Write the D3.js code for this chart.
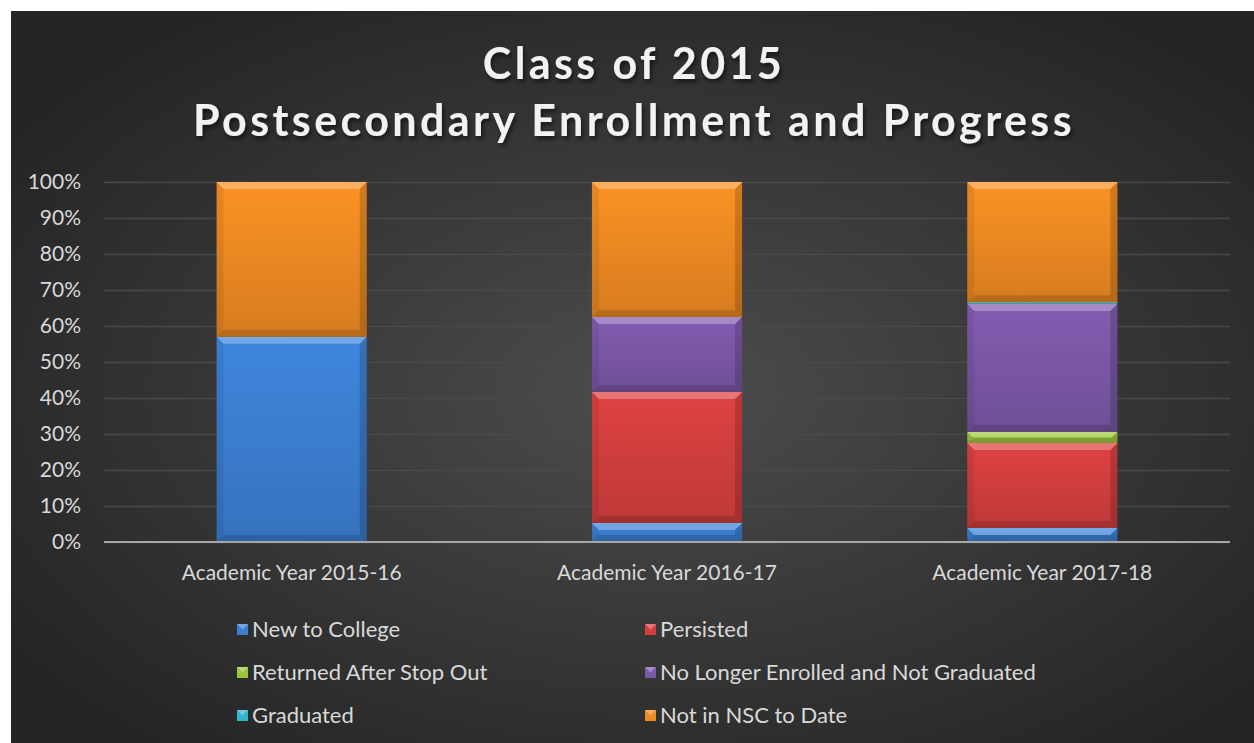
<!DOCTYPE html>
<html lang="en">
<head>
    <meta charset="UTF-8">
    <script src="https://cdn.jsdelivr.net/npm/d3@7"></script>
    <title>Class of 2015</title>
    <style>
        body { margin: 0; background: #fff; }
        svg { display: block; }
        .tick text { font-family: Lato, "Open Sans", sans-serif; fill: #d9d9d9; }
    </style>
</head>
<body>
<div id="chart"></div>
<script>
    // data (share of class)
    const categories = ["Academic Year 2015-16", "Academic Year 2016-17", "Academic Year 2017-18"];
    const seriesNames = ["New to College", "Persisted", "Returned After Stop Out",
        "No Longer Enrolled and Not Graduated", "Graduated", "Not in NSC to Date"];
    const newToCollege = [0.57, 0.053, 0.039];
    const persisted = [0, 0.364, 0.236];
    const returnedAfterStopOut = [0, 0, 0.031];
    const noLongerEnrolled = [0, 0.208, 0.355];
    const graduated = [0, 0, 0.005];
    const notInNSC = [0.43, 0.375, 0.334];
    const yTicks = [0, 0.1, 0.2, 0.3, 0.4, 0.5, 0.6, 0.7, 0.8, 0.9, 1];
    const seriesColors = ["#3c7fd2", "#d33f3f", "#9cc53e", "#7b58a8", "#2fb6cc", "#ee8a22"];

    const width = 1254, height = 743;
    const margin = { left: 104, right: 24, top: 182, bottom: 201 };

    const table = categories.map((c, i) => ({
        category: c,
        [seriesNames[0]]: newToCollege[i],
        [seriesNames[1]]: persisted[i],
        [seriesNames[2]]: returnedAfterStopOut[i],
        [seriesNames[3]]: noLongerEnrolled[i],
        [seriesNames[4]]: graduated[i],
        [seriesNames[5]]: notInNSC[i]
    }));

    const svg = d3.select("#chart").append("svg")
        .attr("width", width)
        .attr("height", height);

    const defs = svg.append("defs");
    const bg = defs.append("radialGradient").attr("id", "bg")
        .attr("cx", "52%").attr("cy", "52%").attr("r", "62%");
    bg.append("stop").attr("offset", "0%").attr("stop-color", "#4d4d4d");
    bg.append("stop").attr("offset", "100%").attr("stop-color", "#252525");

    const shadow = defs.append("filter").attr("id", "shadow")
        .attr("x", "-5%").attr("y", "-20%").attr("width", "110%").attr("height", "150%");
    shadow.append("feDropShadow").attr("dx", 2).attr("dy", 3).attr("stdDeviation", 2)
        .attr("flood-color", "#000").attr("flood-opacity", 0.55);

    const color = d3.scaleOrdinal().domain(seriesNames).range(seriesColors);
    seriesColors.forEach((c, i) => {
        const g = defs.append("linearGradient").attr("id", "grad" + i)
            .attr("x1", 0).attr("y1", 0).attr("x2", 0).attr("y2", 1);
        g.append("stop").attr("offset", "0%").attr("stop-color", d3.color(c).brighter(0.15));
        g.append("stop").attr("offset", "100%").attr("stop-color", d3.color(c).darker(0.3));
    });

    // chart background (white border at top/left like the source image)
    svg.append("rect")
        .attr("x", 11).attr("y", 11)
        .attr("width", width - 11).attr("height", height - 11)
        .attr("fill", "url(#bg)");

    // title
    const title = svg.append("text")
        .attr("x", 634)
        .attr("text-anchor", "middle")
        .attr("font-family", "Lato, 'Open Sans', sans-serif")
        .attr("font-weight", "bold")
        .attr("font-size", 43)
        .attr("letter-spacing", 3.4)
        .attr("fill", "#f2f2f2")
        .attr("filter", "url(#shadow)");
    title.append("tspan").attr("x", 634).attr("y", 79).text("Class of 2015");
    title.append("tspan").attr("x", 634).attr("y", 136).text("Postsecondary Enrollment and Progress");

    const x = d3.scaleBand()
        .domain(categories)
        .range([margin.left, width - margin.right])
        .paddingInner(0.6)
        .paddingOuter(0.3);

    const y = d3.scaleLinear()
        .domain([0, 1])
        .range([height - margin.bottom, margin.top]);

    // gridlines + y labels
    const yAxis = svg.append("g")
        .attr("transform", `translate(${margin.left},0)`)
        .call(d3.axisLeft(y).tickValues(yTicks).tickFormat(d3.format(".0%"))
            .tickSize(-(width - margin.left - margin.right)).tickPadding(23));
    yAxis.select(".domain").remove();
    yAxis.selectAll(".tick line").attr("stroke", "#4a4a4a").attr("stroke-width", 1.3);
    yAxis.selectAll(".tick text").attr("font-size", 21);

    // stacked bars
    const stacked = d3.stack().keys(seriesNames)(table);

    const layers = svg.append("g").selectAll("g")
        .data(stacked)
        .enter().append("g");

    const segs = layers.selectAll("g")
        .data((layer, i) => layer.map(d => ({ d, i, cat: d.data.category })))
        .enter().append("g")
        .filter(s => s.d[1] - s.d[0] > 0);

    segs.each(function (s) {
        const g = d3.select(this);
        const x0 = x(s.cat), w = x.bandwidth();
        const y0 = y(s.d[1]), y1 = y(s.d[0]);
        const h = y1 - y0;
        const b = Math.min(7, h / 2);
        g.append("rect")
            .attr("x", x0).attr("y", y0)
            .attr("width", w).attr("height", h)
            .attr("fill", `url(#grad${s.i})`);
        // bevel edges
        const bevel = [
            { pts: [[x0, y0], [x0 + w, y0], [x0 + w - b, y0 + b], [x0 + b, y0 + b]], fill: "#fff", op: 0.28 },
            { pts: [[x0, y1], [x0 + w, y1], [x0 + w - b, y1 - b], [x0 + b, y1 - b]], fill: "#000", op: 0.14 },
            { pts: [[x0, y0], [x0 + b, y0 + b], [x0 + b, y1 - b], [x0, y1]], fill: "#000", op: 0.07 },
            { pts: [[x0 + w, y0], [x0 + w - b, y0 + b], [x0 + w - b, y1 - b], [x0 + w, y1]], fill: "#000", op: 0.16 }
        ];
        g.selectAll("polygon").data(bevel).enter().append("polygon")
            .attr("points", p => p.pts.map(q => q.join(",")).join(" "))
            .attr("fill", p => p.fill)
            .attr("fill-opacity", p => p.op);
    });

    // x axis
    const xAxis = svg.append("g")
        .attr("transform", `translate(0,${y(0)})`)
        .call(d3.axisBottom(x).tickSize(0).tickPadding(23));
    xAxis.select(".domain").attr("stroke", "#a6a6a6").attr("stroke-width", 2.2)
        .attr("d", `M${margin.left},0H${width - margin.right}`);
    xAxis.selectAll(".tick text").attr("font-size", 21);

    // legend, two columns
    const legend = svg.append("g")
        .attr("font-family", "Lato, 'Open Sans', sans-serif")
        .attr("font-size", 22);
    const items = legend.selectAll("g")
        .data(seriesNames)
        .enter().append("g")
        .attr("transform", (d, i) => `translate(${i % 2 === 0 ? 237 : 645},${629 + Math.floor(i / 2) * 43})`);
    items.append("rect")
        .attr("x", 0).attr("y", -5)
        .attr("width", 11).attr("height", 11)
        .attr("fill", d => color(d));
    items.append("polygon")
        .attr("points", "0,-5 11,-5 5.5,0.5")
        .attr("fill", "#fff").attr("fill-opacity", 0.3);
    items.append("text")
        .attr("x", 15).attr("dy", "0.35em")
        .attr("fill", "#d9d9d9")
        .text(d => d);
</script>
</body>
</html>
